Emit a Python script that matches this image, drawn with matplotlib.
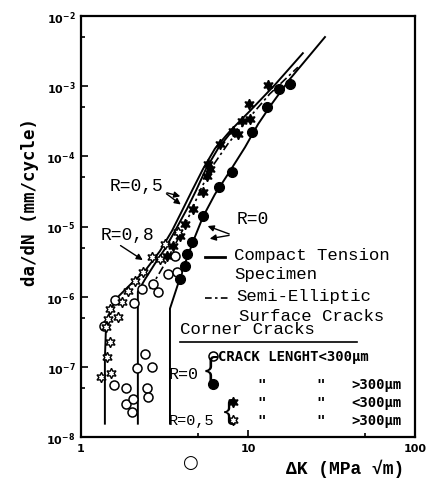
import numpy as np
import matplotlib.pyplot as plt
from matplotlib.ticker import LogLocator, FixedLocator, NullFormatter

plt.rcParams['font.family'] = ['Liberation Mono', 'DejaVu Sans']

# --- data (dK in MPa sqrt(m), da/dN as log10 mm/cycle) ---
# R=0, corner cracks, crack length < 300 um (open circles)
r0_short_dk = [1.60, 2.08, 1.37, 2.42, 2.16, 2.66, 1.58, 1.86, 1.86, 2.05, 2.02,
               2.48, 2.52, 2.70, 2.32, 3.32, 3.76, 3.66, 2.89]
r0_short_log = [-6.05, -6.09, -6.42, -6.81, -7.01, -7.00, -7.26, -7.30, -7.53, -7.46, -7.64,
                -7.30, -7.43, -5.82, -5.89, -5.68, -5.65, -5.42, -5.93]

# R=0, crack length > 300 um (filled circles)
r0_long_dk = [3.92, 4.20, 4.31, 4.62, 5.38, 6.70, 8.02, 10.6, 13.0, 15.3, 17.8]
r0_long_log = [-5.75, -5.56, -5.39, -5.22, -4.85, -4.44, -4.22, -3.65, -3.30, -3.04, -2.97]

# R=0.5, crack length < 300 um (filled stars)
r05_short_dk = [13.2, 10.1, 9.20, 10.3, 8.13, 8.71, 6.80, 5.76, 5.68, 5.38, 4.69,
                4.20, 3.92, 3.56, 3.27, 5.92]
r05_short_log = [-2.98, -3.25, -3.49, -3.47, -3.64, -3.68, -3.82, -4.11, -4.28, -4.51, -4.75,
                 -4.96, -5.13, -5.28, -5.42, -4.18]

# R=0.5, crack length > 300 um (open stars)
r05_long_dk = [1.32, 1.51, 1.43, 1.49, 1.41, 1.49, 1.45, 1.67, 1.76, 1.91, 2.11,
               2.35, 2.66, 2.97, 3.18, 3.81]
r05_long_log = [-7.14, -7.09, -6.86, -6.64, -6.43, -6.17, -6.32, -6.29, -6.07, -5.92, -5.77,
                -5.65, -5.43, -5.46, -5.25, -5.08]

# compact tension curves
ct_r08_dk = [1.39, 1.39, 1.41, 1.49, 1.67, 1.97, 2.42, 2.97, 3.51, 4.02, 4.62, 5.38,
             6.34, 7.80, 10.3, 14.5, 21.3]
ct_r08_log = [-7.81, -6.89, -6.46, -6.20, -6.00, -5.83, -5.63, -5.35, -5.06, -4.78, -4.49,
              -4.18, -3.89, -3.64, -3.35, -2.98, -2.53]
ct_r05_dk = [2.19, 2.19, 2.42, 2.77, 3.18, 3.66, 4.31, 4.88, 5.60, 6.61, 8.02]
ct_r05_log = [-7.81, -5.93, -5.75, -5.53, -5.32, -5.06, -4.75, -4.49, -4.18, -3.89, -3.64]
ct_r0_dk = [3.41, 3.41, 3.81, 4.25, 4.75, 5.38, 6.34, 7.80, 9.60, 11.5, 13.9, 17.8, 28.9]
ct_r0_log = [-7.81, -6.17, -5.82, -5.49, -5.18, -4.86, -4.54, -4.21, -3.87, -3.54, -3.25,
             -2.90, -2.30]

# semi-elliptic surface cracks (dash-dot)
se_dk = [2.59, 3.18, 3.81, 4.50, 5.16, 6.09, 7.59, 10.0, 13.5, 19.9]
se_log = [-5.89, -5.53, -5.18, -4.82, -4.49, -4.15, -3.82, -3.47, -3.11, -2.73]

x_ticks = [1, 10, 100]
x_ticklabels = ['1', '10', '100']
y_ticks = [1e-8, 1e-7, 1e-6, 1e-5, 1e-4, 1e-3, 1e-2]
y_ticklabels = [r'$\mathbf{10^{-%d}}$' % e for e in [8, 7, 6, 5, 4, 3, 2]]

fig = plt.figure(figsize=(4.29, 4.85), dpi=100)
ax = fig.add_axes([81 / 429, 1 - 438 / 485, 334 / 429, 421 / 485])
ax.set_xscale('log')
ax.set_yscale('log')
ax.set_xlim(1, 100)
ax.set_ylim(1e-8, 1e-2)

# curves
ax.plot(ct_r08_dk, 10 ** np.array(ct_r08_log), 'k-', lw=1.4)
ax.plot(ct_r05_dk, 10 ** np.array(ct_r05_log), 'k-', lw=1.4)
ax.plot(ct_r0_dk, 10 ** np.array(ct_r0_log), 'k-', lw=1.4)
ax.plot(se_dk, 10 ** np.array(se_log), 'k', lw=1.2, dashes=[5, 2, 1.5, 2])

star6 = (6, 1, 0)
ax.plot(r0_short_dk, 10 ** np.array(r0_short_log), 'o', ms=6.5, mfc='white', mec='k', mew=1.1, ls='none')
ax.plot(r0_long_dk, 10 ** np.array(r0_long_log), 'o', ms=7, mfc='k', mec='k', ls='none')
ax.plot(r05_short_dk, 10 ** np.array(r05_short_log), marker=star6, ms=7.5, mfc='k', mec='k', ls='none')
ax.plot(r05_long_dk, 10 ** np.array(r05_long_log), marker=star6, ms=7.5, mfc='white', mec='k', mew=1.0, ls='none')

# curve labels with arrows
big = dict(fontsize=13, family=['Liberation Mono', 'DejaVu Sans'])
ax.text(2.16, 10 ** -4.42, 'R=0,5', ha='center', va='center', **big)
for tip in [-4.58, -4.71]:
    ax.annotate('', xy=(4.08, 10 ** tip), xytext=(3.15, 10 ** -4.51),
                arrowprops=dict(arrowstyle='-|>', color='k', lw=1, mutation_scale=9))
ax.text(1.89, 10 ** -5.11, 'R=0,8', ha='center', va='center', **big)
ax.annotate('', xy=(2.42, 10 ** -5.50), xytext=(1.67, 10 ** -5.25),
            arrowprops=dict(arrowstyle='-|>', color='k', lw=1, mutation_scale=9))
ax.text(10.7, 10 ** -4.89, 'R=0', ha='center', va='center', **big)
for tip, xt in [(-4.98, 5.53), (-5.18, 5.68)]:
    ax.annotate('', xy=(xt, 10 ** tip), xytext=(8.0, 10 ** -5.12),
                arrowprops=dict(arrowstyle='-|>', color='k', lw=1, mutation_scale=9))

# legend drawn by hand inside the axes
T = ax.transAxes
ax.plot([0.371, 0.431], [0.428, 0.428], 'k-', lw=2, transform=T)
ax.text(0.458, 0.433, 'Compact Tension', transform=T, ha='left', va='center', fontsize=12.5)
ax.text(0.458, 0.388, 'Specimen', transform=T, ha='left', va='center', fontsize=12.5)
ax.plot([0.371, 0.440], [0.330, 0.330], 'k', lw=1.2, dashes=[4, 2, 1.5, 2], transform=T)
ax.text(0.464, 0.337, 'Semi-Elliptic', transform=T, ha='left', va='center', fontsize=12.5)
ax.text(0.474, 0.289, 'Surface Cracks', transform=T, ha='left', va='center', fontsize=12.5)
ax.text(0.296, 0.257, 'Corner Cracks', transform=T, ha='left', va='center', fontsize=12.5)
ax.plot([0.296, 0.826], [0.226, 0.226], 'k-', lw=1.2, transform=T)

small = dict(transform=T, va='center', fontsize=10, fontweight='bold',
             family=['DejaVu Sans Mono', 'DejaVu Sans'])
ax.text(0.262, 0.152, 'R=0', transform=T, ha='left', va='center', fontsize=12)
ax.text(0.362, 0.158, '{', transform=T, ha='left', va='center', fontsize=22)
ax.plot([0.396], [0.192], 'o', ms=6.5, mfc='white', mec='k', mew=1.1, transform=T)
ax.text(0.410, 0.192, 'CRACK LENGHT<300µm', ha='left', **small)
ax.plot([0.394], [0.126], 'o', ms=7, mfc='k', mec='k', transform=T)
ax.text(0.262, 0.040, 'R=0,5', transform=T, ha='left', va='center', fontsize=11)
ax.text(0.418, 0.062, '{', transform=T, ha='left', va='center', fontsize=20)
ax.plot([0.455], [0.083], marker=star6, ms=7.5, mfc='k', mec='k', transform=T)
ax.plot([0.455], [0.040], marker=star6, ms=7.5, mfc='white', mec='k', mew=1.0, transform=T)
for yy, lab in [(0.126, '>300µm'), (0.083, '<300µm'), (0.040, '>300µm')]:
    ax.text(0.542, yy, '"', ha='center', **small)
    ax.text(0.716, yy, '"', ha='center', **small)
    ax.text(0.811, yy, lab, ha='left', **small)

# axes styling
for s in ax.spines.values():
    s.set_linewidth(1.6)
ax.xaxis.set_major_locator(FixedLocator(x_ticks))
ax.set_xticklabels(x_ticklabels, fontsize=8, fontweight='bold', family='DejaVu Sans')
ax.xaxis.set_minor_locator(LogLocator(base=10, subs=[5]))
ax.xaxis.set_minor_formatter(NullFormatter())
ax.yaxis.set_major_locator(FixedLocator(y_ticks))
ax.set_yticklabels(y_ticklabels, fontsize=8)
ax.yaxis.set_minor_locator(LogLocator(base=10, subs=[5]))
ax.yaxis.set_minor_formatter(NullFormatter())
ax.tick_params(which='both', direction='in', width=1.2)
ax.tick_params(which='major', length=5, pad=4)
ax.tick_params(which='minor', length=3)

ax.set_xlabel('ΔK (MPa √m)', fontsize=13, fontweight='bold')
ax.xaxis.set_label_coords(0.79, -0.052)
ax.set_ylabel('da/dN (mm/cycle)', fontsize=12.5, fontweight='bold',
              family=['DejaVu Sans Mono', 'DejaVu Sans'])
ax.yaxis.set_label_coords(-0.125, 0.56)

# stray open circle below the axis in the scan
fig.text(190 / 429, 1 - 463 / 485, '○', ha='center', va='center', fontsize=13,
         family='DejaVu Sans')

fig.savefig('out.png', dpi=100)
